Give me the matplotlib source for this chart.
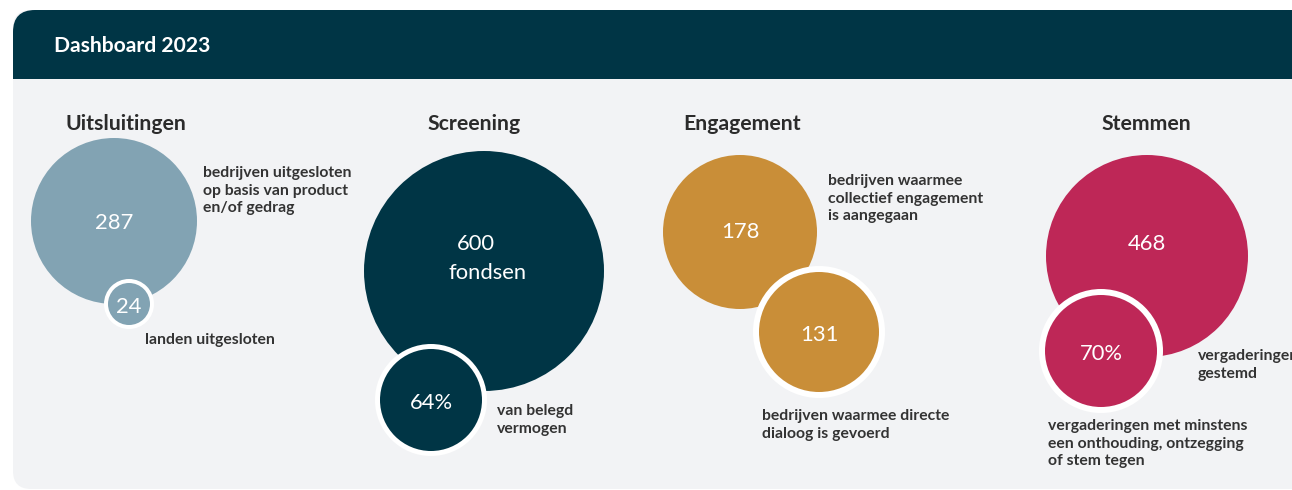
import matplotlib
matplotlib.use("Agg")
import matplotlib.pyplot as plt
from matplotlib.patches import Circle, FancyBboxPatch, Rectangle

# ---------------- data ----------------
header_title = "Dashboard 2023"
titles = ["Uitsluitingen", "Screening", "Engagement", "Stemmen"]
main_values = ["287", "600", "178", "468"]
main_units = ["", "fondsen", "", ""]
sub_values = ["24", "64%", "131", "70%"]
main_labels = [
    "bedrijven uitgesloten\nop basis van product\nen/of gedrag",
    "",
    "bedrijven waarmee\ncollectief engagement\nis aangegaan",
    "vergaderingen\ngestemd",
]
sub_labels = [
    "landen uitgesloten",
    "van belegd\nvermogen",
    "bedrijven waarmee directe\ndialoog is gevoerd",
    "vergaderingen met minstens\neen onthouding, ontzegging\nof stem tegen",
]
colors = ["#82A3B3", "#003545", "#C98E38", "#BE2757"]

# ---------------- layout (pixels) ----------------
W, H = 1292, 490
title_x = [126, 474, 742, 1146]
title_y = 124
big_c = [(114, 221), (484, 271), (740, 232), (1147, 256)]
big_r = [83, 120, 77, 101]
small_c = [(129, 304), (431, 400), (819, 332), (1101, 351)]
small_r = [21, 51, 60, 56]
ring = [4, 5, 6, 6]
main_label_xy = [(203, 172), None, (828, 180), (1198, 355)]
sub_label_xy = [(145, 339), (497, 410), (762, 415), (1048, 425)]

FONT = "Lato"
label_col = "#333333"

fig = plt.figure(figsize=(W / 100, H / 100), dpi=100)
fig.patch.set_facecolor("white")
ax = fig.add_axes([0, 0, 1, 1])
ax.set_xlim(0, W)
ax.set_ylim(H, 0)
ax.axis("off")

# panel
panel = FancyBboxPatch((13, 10), 1320, 479, boxstyle="round,pad=0,rounding_size=18",
                       facecolor="#F2F3F5", edgecolor="none", zorder=0)
ax.add_patch(panel)
head = FancyBboxPatch((13, 10), 1320, 100, boxstyle="round,pad=0,rounding_size=22",
                      facecolor="#003545", edgecolor="none", zorder=1)
ax.add_patch(head)
ax.add_patch(Rectangle((13, 79), 1320, 60, facecolor="#F2F3F5", edgecolor="none", zorder=1))
ax.text(54, 46, header_title, color="white", fontsize=15.2, fontweight="bold",
        family=FONT, ha="left", va="center", zorder=2)

for i in range(4):
    ax.text(title_x[i], title_y, titles[i], color="#2b2b2b", fontsize=15.3,
            fontweight="bold", family=FONT, ha="center", va="center", zorder=3)
    bx, by = big_c[i]
    ax.add_patch(Circle((bx, by), big_r[i], facecolor=colors[i], edgecolor="none", zorder=2))
    sx, sy = small_c[i]
    ax.add_patch(Circle((sx, sy), small_r[i] + ring[i], facecolor="white", edgecolor="none", zorder=3))
    ax.add_patch(Circle((sx, sy), small_r[i], facecolor=colors[i], edgecolor="none", zorder=4))
    if main_units[i]:
        ax.text(bx - 8, by - 27, main_values[i], color="white", fontsize=15.8,
                family=FONT, ha="center", va="center", zorder=5)
        ax.text(bx + 4, by + 2, main_units[i], color="white", fontsize=15.8,
                family=FONT, ha="center", va="center", zorder=5)
    else:
        dy = [2, 0, 0, -12][i]
        ax.text(bx, by + dy, main_values[i], color="white", fontsize=15.8,
                family=FONT, ha="center", va="center", zorder=5)
    ax.text(sx, sy + 3, sub_values[i], color="white", fontsize=15.8,
            family=FONT, ha="center", va="center", zorder=5)
    if main_label_xy[i] is not None:
        lx, ly = main_label_xy[i]
        ax.text(lx, ly - 6, main_labels[i], color=label_col, fontsize=11.3,
                fontweight="bold", family=FONT, ha="left", va="top",
                linespacing=1.34, zorder=5)
    lx, ly = sub_label_xy[i]
    ax.text(lx, ly - 6, sub_labels[i], color=label_col, fontsize=11.3,
            fontweight="bold", family=FONT, ha="left", va="top",
            linespacing=1.34, zorder=5)

fig.savefig("out.png", dpi=100, facecolor="white")
